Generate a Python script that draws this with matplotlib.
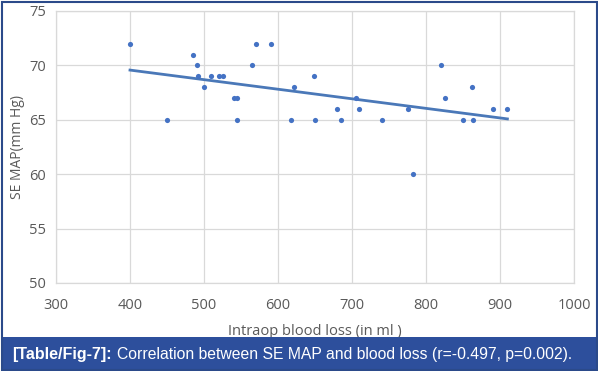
import numpy as np
import matplotlib
matplotlib.use("Agg")
import matplotlib.pyplot as plt
from matplotlib.patches import Rectangle

blood_loss = [400, 450, 485, 490, 492, 500, 510, 520, 525, 540, 545, 545,
              565, 570, 590, 617, 622, 648, 650, 680, 685, 705, 710, 740,
              775, 783, 820, 825, 850, 862, 863, 890, 910]
se_map = [72, 65, 71, 70, 69, 68, 69, 69, 69, 67, 67, 65,
          70, 72, 72, 65, 68, 69, 65, 66, 65, 67, 66, 65,
          66, 60, 70, 67, 65, 68, 65, 66, 66]
x_ticks = [300, 400, 500, 600, 700, 800, 900, 1000]
y_ticks = [50, 55, 60, 65, 70, 75]
caption_bold = "[Table/Fig-7]:"
caption_text = "Correlation between SE MAP and blood loss (r=-0.497, p=0.002)."

W, H = 598, 371
fig = plt.figure(figsize=(W / 100, H / 100), dpi=100)
fig.patch.set_facecolor("white")

ax = fig.add_axes([56 / W, 1 - 283 / H, (574 - 56) / W, (283 - 11) / H])
ax.set_xlim(300, 1000)
ax.set_ylim(50, 75)
ax.set_xticks(x_ticks)
ax.set_yticks(y_ticks)
ax.grid(True, color="#d9d9d9", linewidth=0.9)
ax.set_axisbelow(True)
for s in ax.spines.values():
    s.set_color("#d9d9d9")
    s.set_linewidth(0.9)
ax.tick_params(length=0, colors="#595959", labelsize=10.5)
ax.tick_params(axis="x", pad=11)
ax.tick_params(axis="y", pad=7)
for lab in ax.get_xticklabels() + ax.get_yticklabels():
    lab.set_fontfamily("Open Sans")

x = np.array(blood_loss, dtype=float)
y = np.array(se_map, dtype=float)
ax.scatter(x, y, s=14, color="#4472c4", zorder=3, linewidths=0)
m, b = np.polyfit(x, y, 1)
xl = np.array([x.min(), x.max()])
ax.plot(xl, m * xl + b, color="#4a78b8", linewidth=2, zorder=2)

ax.set_ylabel("SE MAP(mm Hg)", color="#595959", fontsize=10, family="Open Sans", labelpad=3)
ax.set_xlabel("Intraop blood loss (in ml )", color="#595959", fontsize=10.5, family="Open Sans", labelpad=8)

# caption bar
fig.patches.append(Rectangle((2 / W, 0), (W - 4) / W, (H - 337) / H, transform=fig.transFigure,
                             facecolor="#2d4f9c", edgecolor="none", zorder=5))
# outer border
fig.patches.append(Rectangle((1.5 / W, 1 / H), (W - 3) / W, (H - 2.5) / H, transform=fig.transFigure,
                             facecolor="none", edgecolor="#2b4a8a", linewidth=1.5, zorder=6))

t1 = fig.text(12 / W, 1 - 354 / H, caption_bold, color="white", fontsize=11.5, fontweight="bold",
              family="Liberation Sans", va="center", ha="left", zorder=7)
fig.canvas.draw()
bb = t1.get_window_extent()
fig.text((bb.x1 + 5) / W, 1 - 354 / H, caption_text, color="white", fontsize=11.3,
         family="Liberation Sans", va="center", ha="left", zorder=7)

fig.savefig("out.png", dpi=100, facecolor="white")
